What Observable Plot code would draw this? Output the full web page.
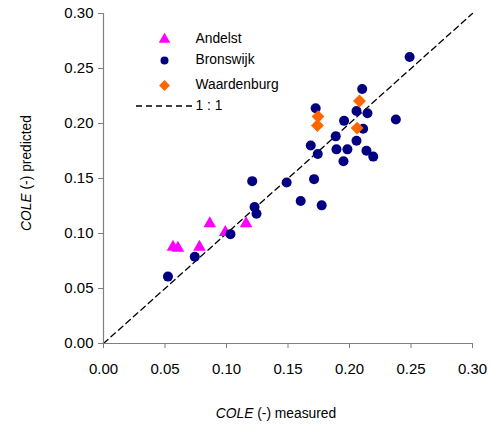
<!DOCTYPE html>
<html>
<head>
<meta charset="utf-8">
<script src="https://cdn.jsdelivr.net/npm/d3@7"></script>
<script src="https://cdn.jsdelivr.net/npm/@observablehq/plot@0.6"></script>
<style>
  html, body { margin: 0; padding: 0; background: #fff; }
  #chart { width: 489px; height: 426px; }
</style>
</head>
<body>
<div id="chart"></div>
<script>
// ---- data ----
const andelstX = [0.0565, 0.0605, 0.078, 0.0864, 0.099, 0.1159];
const andelstY = [0.0876, 0.0867, 0.0876, 0.109, 0.101, 0.109];

const bronswijkX = [0.0524, 0.0742, 0.1032, 0.1209, 0.1228, 0.1244, 0.1489, 0.1603, 0.1712, 0.1774,
  0.1685, 0.1742, 0.1725, 0.1888, 0.1894, 0.1983, 0.1951, 0.1956, 0.2057, 0.2057,
  0.2103, 0.2146, 0.2111, 0.2138, 0.2193, 0.2377, 0.2489];
const bronswijkY = [0.0608, 0.0789, 0.0994, 0.1476, 0.124, 0.118, 0.1464, 0.1295, 0.1494, 0.1256,
  0.180, 0.1723, 0.2139, 0.1883, 0.1765, 0.1765, 0.1657, 0.2024, 0.1843, 0.2114,
  0.2313, 0.2093, 0.1952, 0.1753, 0.1699, 0.2036, 0.2605];

const waardenburgX = [0.1744, 0.1739, 0.2081, 0.2062];
const waardenburgY = [0.2063, 0.1982, 0.2205, 0.1958];

const oneToOne = [0, 0.30];
const ticks = [0, 0.05, 0.10, 0.15, 0.20, 0.25, 0.30];

const series = [
  {name: "Andelst", xs: andelstX, ys: andelstY, symbol: "triangle", color: "#FF00FF", r: 4.7, lr: 4.3},
  {name: "Bronswijk", xs: bronswijkX, ys: bronswijkY, symbol: "circle", color: "#000080", r: 5, lr: 4},
  {name: "Waardenburg", xs: waardenburgX, ys: waardenburgY, symbol: "diamond2", color: "#FF6600", r: 5.8, lr: 4.9}
];

const rows = series.flatMap(s => s.xs.map((x, i) => ({x, y: s.ys[i], series: s.name})));

const font = "'Liberation Sans', Arial, Helvetica, sans-serif";

const marks = [
  Plot.line(oneToOne.map(v => [v, v]), {stroke: "#000", strokeWidth: 1.3, strokeDasharray: "6,4"}),
  Plot.ruleX([0], {stroke: "#808080", strokeWidth: 1.2}),
  Plot.ruleY([0], {stroke: "#808080", strokeWidth: 1.2}),
  Plot.axisX({ticks, tickFormat: d3.format(".2f"), tickSize: 5, tickPadding: 15, stroke: "#808080", fill: "#000", fontSize: 15, label: null}),
  Plot.axisY({ticks, tickFormat: d3.format(".2f"), tickSize: 5, tickPadding: 5, stroke: "#808080", fill: "#000", fontSize: 15, label: null}),
];
for (const s of series) {
  marks.push(Plot.dot(rows.filter(d => d.series === s.name), {x: "x", y: "y", symbol: () => s.symbol, fill: s.color, r: s.r, stroke: "none"}));
}
// legend symbols
const legendDy = [26, 47, 72];
series.forEach((s, i) => {
  marks.push(Plot.dot([s], {frameAnchor: "top-left", dx: 61, dy: legendDy[i], symbol: () => s.symbol, fill: s.color, r: s.lr, stroke: "none"}));
  marks.push(Plot.text([s.name], {frameAnchor: "top-left", dx: 92, dy: legendDy[i] - 1, text: d => d, textAnchor: "start", lineAnchor: "middle", fontSize: 13.8, fill: "#000"}));
});
marks.push(Plot.text(["1 : 1"], {frameAnchor: "top-left", dx: 92, dy: 92, text: d => d, textAnchor: "start", lineAnchor: "middle", fontSize: 13.8, fill: "#000"}));

const svg = Plot.plot({
  width: 489,
  height: 426,
  marginLeft: 103,
  marginRight: 17,
  marginTop: 13,
  marginBottom: 83,
  style: {fontFamily: font, background: "#fff", overflow: "visible"},
  x: {domain: [0, 0.30]},
  y: {domain: [0, 0.30]},
  symbol: {type: "identity"},
  marks
});

const g = d3.select(svg);
// legend dashed line
g.append("line")
  .attr("x1", 136).attr("x2", 192).attr("y1", 106).attr("y2", 106)
  .attr("stroke", "#000").attr("stroke-width", 1.4).attr("stroke-dasharray", "6,4");

// axis titles with italic COLE
const xt = g.append("text")
  .attr("x", 276).attr("y", 418)
  .attr("text-anchor", "middle")
  .attr("font-size", 13.8).attr("font-family", font).attr("fill", "#000");
xt.append("tspan").attr("font-style", "italic").text("COLE");
xt.append("tspan").text(" (-) measured");

const yt = g.append("text")
  .attr("transform", "translate(31,173) rotate(-90)")
  .attr("text-anchor", "middle")
  .attr("font-size", 13.8).attr("font-family", font).attr("fill", "#000");
yt.append("tspan").attr("font-style", "italic").text("COLE");
yt.append("tspan").text(" (-) predicted");

document.getElementById("chart").appendChild(svg);
</script>
</body>
</html>
